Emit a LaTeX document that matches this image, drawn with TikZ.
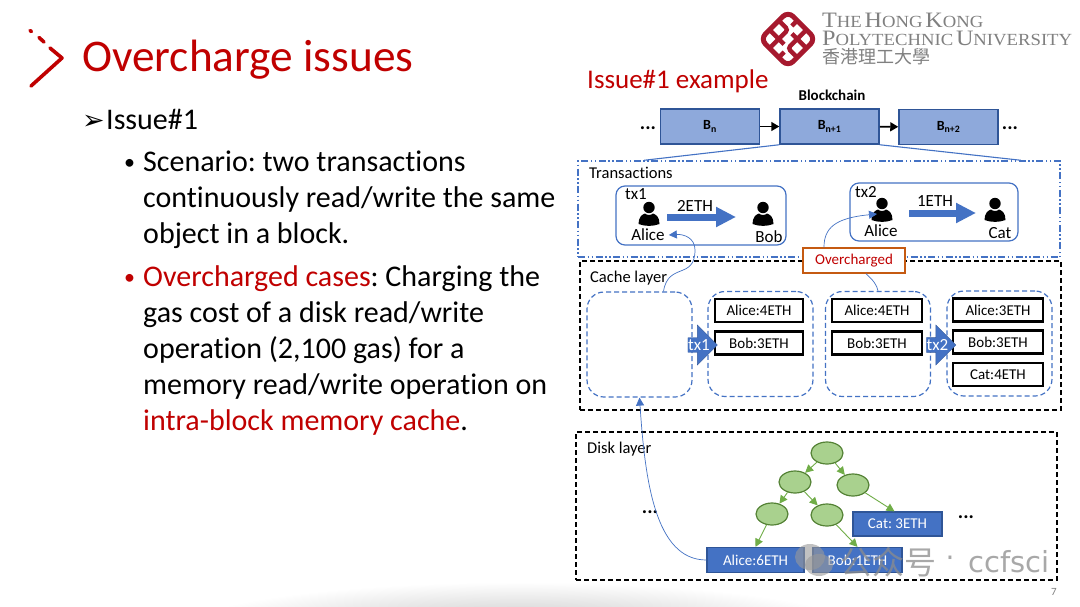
\documentclass[tikz,border=0pt]{standalone}
\usepackage{fontspec}
\setmainfont{Carlito}[Ligatures=CommonOff]
\newfontfamily\serifname[FakeStretch=1.1]{Liberation Serif}
\newfontfamily\cjkname{Noto Sans CJK TC}
\newfontfamily\cjkwater{Noto Sans CJK SC}
\newfontfamily\symbolname{DejaVu Sans}
\usepackage{tikz}
\usetikzlibrary{
    positioning,
    arrows.meta,
    shapes.geometric,
    shapes.arrows,
}
\definecolor{slidered}{HTML}{C00000}
\definecolor{polyred}{HTML}{A6192E}
\definecolor{officeblue}{HTML}{4472C4}
\definecolor{blockfill}{HTML}{8EA9DB}
\definecolor{blockedge}{HTML}{2F5597}
\definecolor{leaffill}{HTML}{A9D18E}
\definecolor{leafedge}{HTML}{548235}
\definecolor{leafarrow}{HTML}{70AD47}
\definecolor{tagedge}{HTML}{C55A11}
\tikzset{
    % Text styles
    slide text/.style={font=\fontsize{30}{30}\selectfont\frenchspacing, anchor=base west, inner sep=0pt},
    small text/.style={font=\fontsize{16.5}{16.5}\selectfont, inner sep=0pt},
    user text/.style={font=\fontsize{17}{17}\selectfont, inner sep=0pt},
    % Block styles
    chain block/.style={rectangle, draw=blockedge, line width=1.5pt, fill=blockfill, minimum width=99pt,
                  minimum height=35pt, inner sep=0pt, font=\fontsize{14}{14}\selectfont\bfseries},
    layer frame/.style={rectangle, draw=black, line width=1.4pt, dash pattern=on 5pt off 3pt, inner sep=0pt},
    tx frame/.style={rectangle, draw=officeblue, line width=1.5pt, dash pattern=on 7pt off 2.5pt on 1.5pt off 2.5pt on 1.5pt off 2.5pt, inner sep=0pt},
    tx box/.style={rectangle, draw=officeblue, line width=1.2pt, rounded corners=9pt, inner sep=0pt},
    state box/.style={rectangle, draw=officeblue, line width=1.2pt, dash pattern=on 5pt off 3pt, rounded corners=17pt,
                  minimum width=105pt, minimum height=105pt, inner sep=0pt},
    account/.style={rectangle, draw=black, line width=2.2pt, fill=white, minimum width=88pt, minimum height=23pt,
                  inner sep=0pt, font=\fontsize{15}{15}\selectfont},
    disk account/.style={rectangle, draw=blockedge, line width=1.2pt, fill=officeblue, text=white, minimum height=25pt,
                  inner sep=0pt, font=\fontsize{15}{15}\selectfont\frenchspacing},
    trie node/.style={ellipse, draw=leafedge, line width=1.2pt, fill=leaffill, minimum width=32pt, minimum height=22pt, inner sep=0pt},
    apply arrow/.style={single arrow, fill=officeblue, draw=officeblue!80!black, line width=0.4pt, text=white, inner sep=0pt,
                  minimum height=29pt, minimum width=40pt, single arrow head extend=10pt, single arrow head indent=0pt,
                  font=\fontsize{17}{17}\selectfont},
    % Arrow styles
    arrow/.style={-{Triangle[length=8pt, width=9pt]}, line width=1.6pt},
    flow arrow/.style={-{Triangle[length=8pt, width=8pt]}, line width=0.7pt, officeblue},
    trie arrow/.style={-{Triangle[length=8pt, width=8pt]}, line width=0.9pt, leafarrow},
    transfer arrow/.style={-{Triangle[length=20pt, width=19pt]}, line width=7pt, officeblue},
    person/.pic={
        \fill[black] (0,-6.5) circle (5.7pt);
        \fill[black] (-10.5,10) .. controls (-10.5,3) and (-7,0.5) .. (-4,-0.5) .. controls (-2,1.5) and (2,1.5) .. (4,-0.5)
            .. controls (7,0.5) and (10.5,3) .. (10.5,10) .. controls (4,12.5) and (-4,12.5) .. (-10.5,10) -- cycle;
    },
}
\newcommand{\capsmall}[2]{{\fontsize{22}{22}\selectfont #1}{\fontsize{17}{17}\selectfont #2}}

\begin{document}
\begin{tikzpicture}[x=1pt, y=-1pt]
    \useasboundingbox (0,0) rectangle (1080,606);
    \fill[white] (0,0) rectangle (1080,606);

    % Bottom shadow
    \begin{scope}
        \clip (0,0) rectangle (1080,606);
        \shade[inner color=black!25, outer color=white] (520,632) ellipse (345pt and 50pt);
    \end{scope}

    % Title mark
    \draw[slidered, line width=3.6pt, line cap=round] (30,30.5) -- (31.5,31.5);
    \draw[slidered, line width=3.6pt, line cap=round] (39,37.5) -- (44,42);
    \draw[slidered, line width=3.6pt, line cap=round, line join=round] (50,48) -- (62,58) -- (31,86);

    % Left text
    \node[slide text, text=slidered, font=\fontsize{45.3}{45.3}\selectfont] (title) at (82,71) {Overcharge issues};
    \node[slide text, font=\symbolname\fontsize{27}{27}\selectfont] (mark) at (82,129) {➢};
    \node[slide text] (issue) at (106,129) {Issue\#1};
    \node[slide text, font=\fontsize{22}{22}\selectfont] (bulleta) at (124,169) {•};
    \node[slide text] (scena) at (143,171) {Scenario: two transactions};
    \node[slide text] (scenb) at (143,207) {continuously read/write the same};
    \node[slide text] (scenc) at (143,243) {object in a block.};
    \node[slide text, text=slidered, font=\fontsize{22}{22}\selectfont] (bulletb) at (124,284) {•};
    \node[slide text] (overa) at (143,286) {\textcolor{slidered}{Overcharged cases}: Charging the};
    \node[slide text] (overb) at (143,322) {gas cost of a disk read/write};
    \node[slide text] (overc) at (143,358) {operation (2,100 gas) for a};
    \node[slide text] (overd) at (143,394) {memory read/write operation on};
    \node[slide text] (overe) at (143,430) {\textcolor{slidered}{intra-block memory cache}.};

    % University logo
    \begin{scope}[shift={(788,39)}, rotate=45]
        \draw[polyred, line width=5pt, rounded corners=7pt] (-19.5,-19.5) rectangle (19.5,19.5);
        \draw[polyred, line width=4.4pt, rounded corners=3pt] (-19.5,-6.5) -- (6.5,-6.5) -- (6.5,-19.5);
        \draw[polyred, line width=4.4pt, rounded corners=3pt] (19.5,6.5) -- (-6.5,6.5) -- (-6.5,19.5);
        \draw[polyred, line width=4.4pt, rounded corners=3pt] (-6.5,-19.5) -- (-6.5,1) (6.5,19.5) -- (6.5,-1);
        \draw[polyred, line width=4.4pt, rounded corners=3pt] (19.5,-6.5) -- (12,-6.5) (-19.5,6.5) -- (-12,6.5);
    \end{scope}
    \node[anchor=base west, inner sep=0pt, text=black!50, font=\serifname] (polya) at (822,27) {\capsmall{T}{HE} \capsmall{H}{ONG} \capsmall{K}{ONG}};
    \node[anchor=base west, inner sep=0pt, text=black!50, font=\serifname] (polyb) at (822,45) {\capsmall{P}{OLYTECHNIC} \capsmall{U}{NIVERSITY}};
    \node[anchor=base west, inner sep=0pt, text=black!50, font=\cjkname\fontsize{18}{18}\selectfont] (polyc) at (822,63) {香港理工大學};

    % Blockchain
    \node[anchor=base west, inner sep=0pt, text=slidered, font=\fontsize{27}{27}\selectfont] (example) at (587,88) {Issue\#1 example};
    \node[inner sep=0pt, font=\fontsize{15}{15}\selectfont\bfseries] (chainname) at (832,95) {Blockchain};
    \node[chain block] (bn) at (710,126.5) {B\textsubscript{n}};
    \node[chain block] (bna) at (829.5,126.5) {B\textsubscript{n+1}};
    \node[chain block] (bnb) at (948.5,127) {B\textsubscript{n+2}};
    \node[inner sep=0pt, font=\fontsize{20}{20}\selectfont\bfseries] (dotsa) at (648,128) {...};
    \node[inner sep=0pt, font=\fontsize{20}{20}\selectfont\bfseries] (dotsb) at (1010,128) {...};
    \draw[arrow, black] (bn) -- (bna);
    \draw[arrow, black] (bna) -- (bnb);

    % Frames
    \node[layer frame, minimum width=481pt, minimum height=149pt] (cachelayer) at (820.5,335.5) {};
    \node[layer frame, minimum width=481pt, minimum height=148pt] (disklayer) at (816.5,506) {};
    \node[tx frame, minimum width=482pt, minimum height=96pt] (txlayer) at (819,209) {};
    \draw[officeblue, line width=1.1pt] (bna.south west) -- ([xshift=67pt]txlayer.north west);
    \draw[officeblue, line width=1.1pt] (bna.south east) -- ([xshift=-40pt]txlayer.north east);
    \node[small text, anchor=west] (txname) at (589,173) {Transactions};
    \node[small text, anchor=west] (cachename) at (590,278) {Cache layer};
    \node[small text, anchor=west] (diskname) at (587,449) {Disk layer};

    % Transactions
    \node[tx box, minimum width=170pt, minimum height=59pt] (txa) at (701,215.5) {};
    \node[tx box, minimum width=168pt, minimum height=58pt] (txb) at (934,212) {};
    \node[user text] (txaname) at (636,194) {tx1};
    \node[user text] (txbname) at (866,192) {tx2};
    \pic at (649,214) {person};
    \pic at (763,214) {person};
    \pic at (882,210) {person};
    \pic at (995,210) {person};
    \node[user text] (alicea) at (648,235) {Alice};
    \node[user text] (boba) at (769,237) {Bob};
    \node[user text] (aliceb) at (881,231) {Alice};
    \node[user text] (cat) at (1000,233) {Cat};
    \node[user text] (amounta) at (695,206) {2ETH};
    \node[user text] (amountb) at (935,201) {1ETH};
    \coordinate (sendera) at (667,217);
    \coordinate (receivera) at (736,217);
    \coordinate (senderb) at (909,213);
    \coordinate (receiverb) at (976,213);
    \coordinate (alicebpoint) at (877,214);
    \draw[transfer arrow] (sendera) -- (receivera);
    \draw[transfer arrow] (senderb) -- (receiverb);

    % Cache states
    \node[state box] (cachea) at (639.5,344.5) {};
    \node[state box] (cacheb) at (760.5,344) {};
    \node[state box] (cachec) at (878,344) {};
    \node[state box] (cached) at (999.5,343.5) {};
    \node[account] (alicefour) at (759,310.5) {Alice:4ETH};
    \node[account] (bobthree) at (759,343) {Bob:3ETH};
    \node[account, minimum width=90pt] (alicefourb) at (877,310.5) {Alice:4ETH};
    \node[account, minimum width=90pt] (bobthreeb) at (877,343) {Bob:3ETH};
    \node[account, minimum width=90pt] (alicethree) at (998,310) {Alice:3ETH};
    \node[account, minimum width=90pt] (bobthreec) at (998,342) {Bob:3ETH};
    \node[account, minimum width=90pt] (catfour) at (998,374.5) {Cat:4ETH};
    \node[apply arrow] (applya) at (699,345) {tx1};
    \node[apply arrow] (applyb) at (937.5,345) {tx2};

    % Disk layer
    \node[trie node] (root) at (827,453) {};
    \node[trie node] (left) at (795,482) {};
    \node[trie node] (right) at (853,485) {};
    \node[trie node] (leftleft) at (772,514) {};
    \node[trie node] (leftright) at (827,515) {};
    \node[disk account, minimum width=89pt, minimum height=24pt] (catdisk) at (897.5,524) {Cat: 3ETH};
    \node[disk account, minimum width=97pt] (alicedisk) at (755.5,560) {Alice:6ETH};
    \node[disk account, minimum width=89pt] (bobdisk) at (857.5,560) {Bob:1ETH};
    \node[inner sep=0pt, font=\fontsize{20}{20}\selectfont\bfseries] (dotsc) at (650,512) {...};
    \node[inner sep=0pt, font=\fontsize{20}{20}\selectfont\bfseries] (dotsd) at (966,517) {...};
    \draw[trie arrow] (root) -- (left);
    \draw[trie arrow] (root) -- (right);
    \draw[trie arrow] (left) -- (leftleft);
    \draw[trie arrow] (left) -- (leftright);
    \draw[trie arrow] (right) -- ([xshift=-3pt]catdisk.north);
    \draw[trie arrow] (leftleft) -- (alicedisk.north);
    \draw[trie arrow] (leftright) -- (bobdisk.north);

    % Overcharged links
    \node[rectangle, draw=tagedge, line width=1.4pt, fill=white, minimum width=102pt, minimum height=25pt, inner sep=0pt,
        text=slidered, font=\fontsize{15}{15}\selectfont] (overcharged) at (854,260.5) {Overcharged};
    \draw[flow arrow] ([xshift=-30pt]overcharged.north) .. controls (824,228) and (835,218) .. (alicebpoint);
    \draw[officeblue, line width=0.7pt] ([xshift=12pt]overcharged.south) .. controls (873,280) and (877,285) .. (cachec.north);
    \draw[flow arrow] ([xshift=24pt]cachea.north) .. controls (668,262) and (695,280) .. (695,250)
        .. controls (695,238) and (684,234) .. ([xshift=4pt]alicea.east);
    \draw[flow arrow] (alicedisk.west) .. controls (655,560) and (645,480) .. (cachea.south);

    % Watermark
    \fill[black!40, opacity=0.6] (810,557) ellipse (15pt and 13pt);
    \fill[black!40, opacity=0.6] (819,565) ellipse (14pt and 11pt);
    \node[inner sep=0pt, anchor=west, text=black!45, opacity=0.75, font=\cjkwater\fontsize{32}{32}\selectfont] (wechat) at (840,562) {公众号};
    \node[inner sep=0pt, anchor=center, text=black!45, opacity=0.75, font=\symbolname\fontsize{28}{28}\selectfont] (wdot) at (950,562) {·};
    \node[inner sep=0pt, anchor=west, text=black!45, opacity=0.75, font=\symbolname\fontsize{29}{29}\selectfont] (ccfsci) at (968,562) {ccfsci};

    % Page number
    \node[inner sep=0pt, text=black!50, font=\fontsize{11}{11}\selectfont] (pagenum) at (1054,592) {7};
\end{tikzpicture}
\end{document}
